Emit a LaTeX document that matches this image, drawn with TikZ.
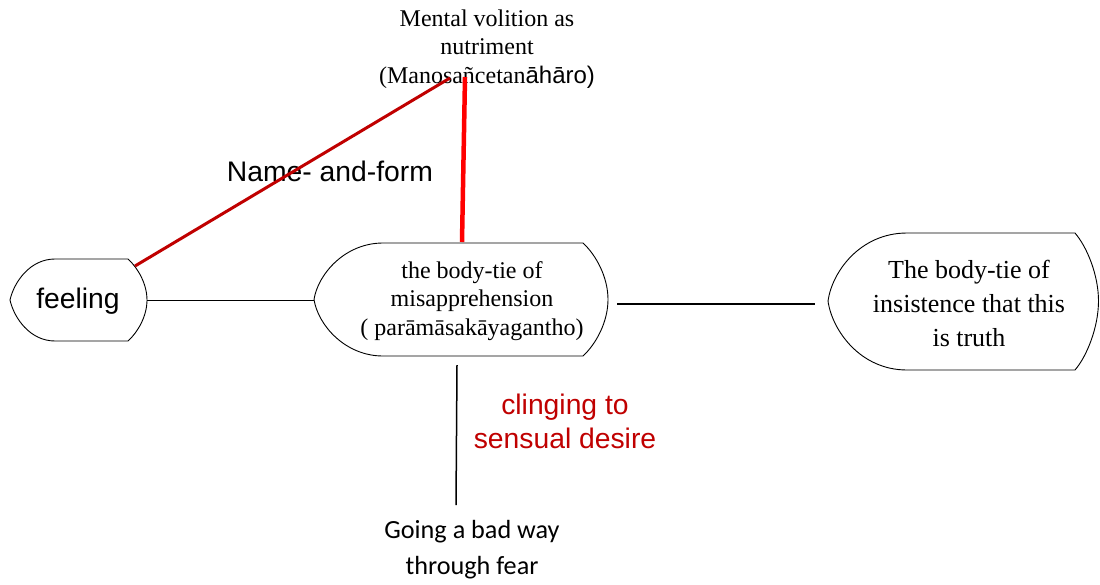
\documentclass[tikz,border=0pt]{standalone}
\usepackage{fontspec}
\setmainfont{Liberation Serif}
\newfontfamily\arialf{Liberation Sans}
\newfontfamily\calibrif{Carlito}
\definecolor{darkred}{HTML}{C00000}
\definecolor{brightred}{HTML}{FF0000}
\begin{document}
\begin{tikzpicture}[x=1pt,y=-1pt,
  shapeline/.style={draw=black,line width=0.9pt},
  serifA/.style={font=\fontsize{24}{28.5}\selectfont,align=center,inner sep=0pt},
  serifB/.style={font=\fontsize{26}{34}\selectfont,align=center,inner sep=0pt},
  sansA/.style={font=\arialf\fontsize{28.3}{34}\selectfont,align=center,inner sep=0pt},
  calA/.style={font=\calibrif\fontsize{26.2}{36}\selectfont,align=center,inner sep=0pt},
  thinconn/.style={draw=black,line width=1pt},
  thickconn/.style={draw=black,line width=2pt},
  redconn/.style={draw=darkred,line width=3pt},
  brightconn/.style={draw=brightred,line width=4.5pt}]
\fill[white] (0,0) rectangle (1100,584);
\useasboundingbox (0,0) rectangle (1100,584);

% shapes
\draw[shapeline] (55,259) -- (128,259) .. controls (138,268) and (147,284) .. (147,300)
  .. controls (147,316) and (138,332) .. (128,341) -- (55,341)
  .. controls (30,341) and (14,318) .. (10,300) .. controls (14,282) and (30,259) .. (55,259) -- cycle;
\draw[shapeline] (383,243) -- (583,243) .. controls (596,255) and (608,277) .. (608,299.5)
  .. controls (608,322) and (596,344) .. (583,356) -- (383,356)
  .. controls (345,356) and (318,325) .. (314,299.5) .. controls (318,274) and (345,243) .. (383,243) -- cycle;
\draw[shapeline] (907,233) -- (1075,233) .. controls (1087,247) and (1098.5,275) .. (1098.5,301)
  .. controls (1098.5,327) and (1087,356) .. (1075,370) -- (907,370)
  .. controls (860,370) and (832,330) .. (828,301) .. controls (832,272) and (860,233) .. (907,233) -- cycle;

% named points on shapes
\coordinate (feelE) at (147,300);
\coordinate (feelNE) at (135,266);
\coordinate (midW) at (314,300);
\coordinate (midE) at (617,304);
\coordinate (midN) at (462,242);
\coordinate (midS) at (457,365);
\coordinate (rightW) at (815,304);

% texts
\node[sansA] (feeling) at (78,301) {feeling};
\node[serifA] (mid) at (472,301) {the body-tie of\\misapprehension\\( parāmāsakāyagantho)};
\node[serifB] (right) at (969,303) {The body-tie of\\insistence that this\\is truth};
\node[serifA] (top) at (487,49) {Mental volition as\\nutriment\\(Manosañcetan{\arialf āhāro)}};
\coordinate (topA) at (450,78);
\coordinate (topB) at (465,77);
\node[sansA] (nameform) at (330,171) {Name- and-form};
\node[sansA,text=darkred] (cling) at (565,421) {clinging to\\sensual desire};
\node[calA] (going) at (472,550) {Going a bad way\\through fear};
\coordinate (goingN) at (456,505);

% connectors
\draw[thinconn] (feelE) -- (midW);
\draw[thickconn] (midE) -- (rightW);
\draw[thinconn,line width=1.5pt] (midS) -- (goingN);
\draw[redconn] (feelNE) -- (topA);
\draw[brightconn] (topB) -- (midN);
\end{tikzpicture}
\end{document}
